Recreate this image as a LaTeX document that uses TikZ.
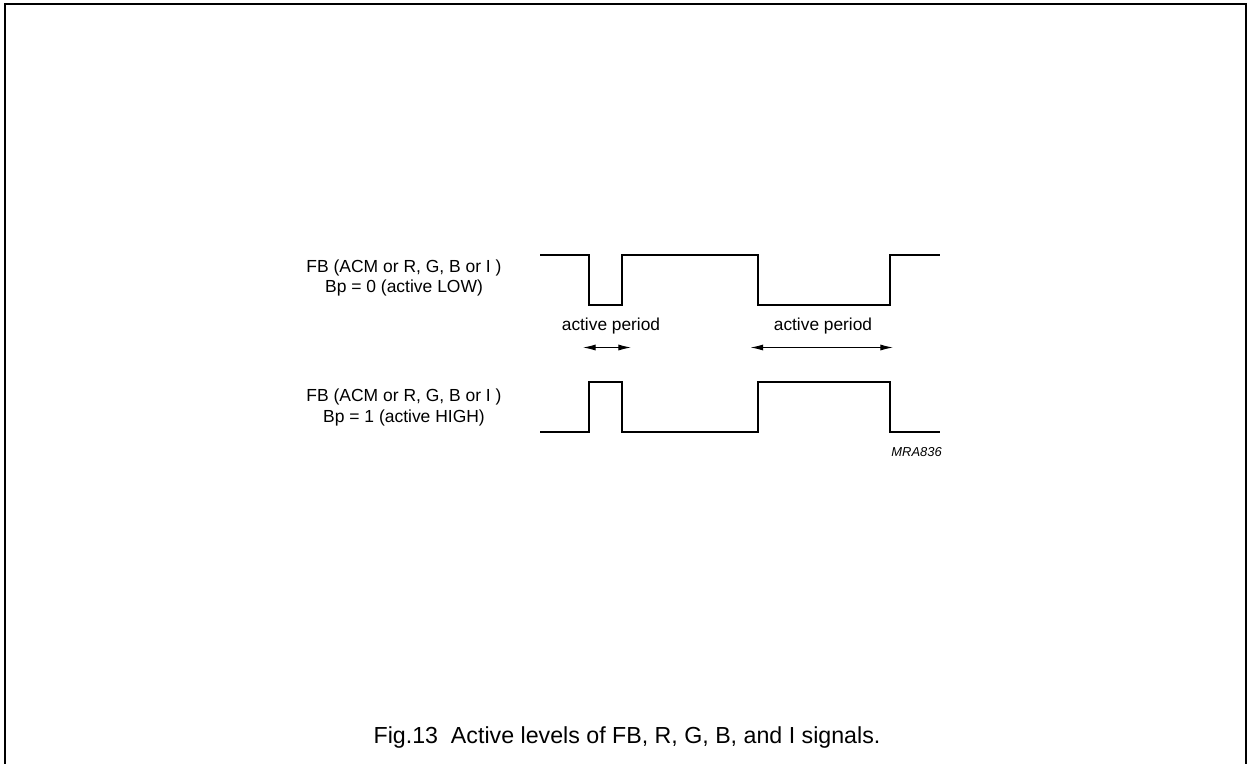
\documentclass[tikz,border=0pt]{standalone}
\usepackage{fontspec}
\setmainfont{Liberation Sans}
\usetikzlibrary{arrows.meta}
\begin{document}
\begin{tikzpicture}[x=0.75pt,y=-0.75pt,
  frame/.style={line width=1.1pt},
  wave/.style={line width=1.5pt,line join=miter},
  lbl/.style={font=\fontsize{13.1}{15.6}\selectfont,align=center,inner sep=0pt},
  per/.style={font=\fontsize{13}{15.6}\selectfont,inner sep=0pt},
  dim/.style={line width=0.75pt,{Latex[length=9.5pt,width=4.6pt]}-{Latex[length=9.5pt,width=4.6pt]}},
  tag/.style={font=\fontsize{9.7}{11}\selectfont\itshape,inner sep=0pt,anchor=east},
  captext/.style={font=\fontsize{17.4}{20}\selectfont,inner sep=0pt}]
\useasboundingbox (0,0) rectangle (1247,764);
\draw[frame] (5,764) -- (5,4) -- (1246,4) -- (1246,764);
% top waveform (active LOW)
\draw[wave] (540,255) -- (589,255) -- (589,305) -- (622,305) -- (622,255) -- (757.5,255) -- (757.5,305) -- (890,305) -- (890,255) -- (940,255);
% bottom waveform (active HIGH)
\draw[wave] (540,431.5) -- (589,431.5) -- (589,381.5) -- (622,381.5) -- (622,431.5) -- (757.5,431.5) -- (757.5,381.5) -- (890,381.5) -- (890,431.5) -- (940,431.5);
\node[lbl] (lowlbl) at (404,278) {FB (ACM or R, G, B or I )\\Bp = 0 (active LOW)};
\node[lbl] (highlbl) at (404,407.5) {FB (ACM or R, G, B or I )\\Bp = 1 (active HIGH)};
\node[per] (p1) at (611,326) {active period};
\node[per] (p2) at (823,326) {active period};
\coordinate (a1l) at (583,347.5);
\coordinate (a1r) at (631,347.5);
\coordinate (a2l) at (750.5,347.5);
\coordinate (a2r) at (893,347.5);
\draw[dim] (a1l) -- (a1r);
\draw[dim] (a2l) -- (a2r);
\node[tag] (mra) at (942,451.7) {MRA836};
\node[captext] (caption) at (627,737) {Fig.13\ \ Active levels of FB, R, G, B, and I signals.};
\end{tikzpicture}
\end{document}
